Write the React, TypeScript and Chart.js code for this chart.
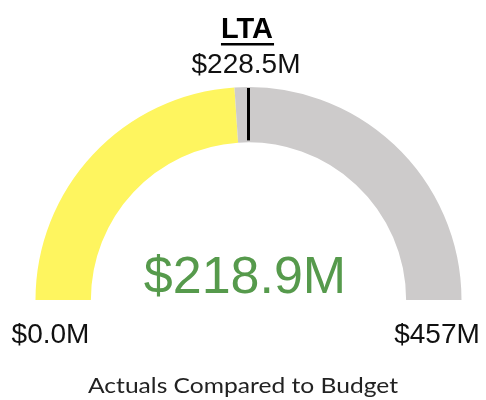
import React, { useEffect, useRef } from "react";
import { Chart, registerables } from "chart.js";

Chart.register(...registerables);

const TITLE = "LTA";
const BUDGET = 228.5;
const ACTUAL = 218.9;
const MAX_VALUE = 457;
const SEGMENT_LABELS = ["Actual", "Remaining"];
const SEGMENT_VALUES = [ACTUAL, MAX_VALUE - ACTUAL];
const MIN_LABEL = "$0.0M";
const MAX_LABEL = "$457M";
const BUDGET_LABEL = "$228.5M";
const ACTUAL_LABEL = "$218.9M";
const FOOTER = "Actuals Compared to Budget";

const YELLOW = "#FEF55F";
const GRAY = "#CDCBCB";
const GREEN = "#569A4C";

const gaugePlugin = {
  id: "gaugeText",
  afterDatasetsDraw(chart: any) {
    const ctx = chart.ctx as CanvasRenderingContext2D;
    const meta = chart.getDatasetMeta(0);
    const arc = meta.data[0] as any;
    if (!arc) return;
    const cx = arc.x;
    const cy = arc.y;
    const outer = arc.outerRadius;
    const inner = arc.innerRadius;
    const start = -Math.PI;
    const ang = start + (BUDGET / MAX_VALUE) * Math.PI;

    ctx.save();
    // budget marker
    ctx.strokeStyle = "#000000";
    ctx.lineWidth = 3;
    ctx.beginPath();
    ctx.moveTo(cx + Math.cos(ang) * (inner + 2), cy + Math.sin(ang) * (inner + 2));
    ctx.lineTo(cx + Math.cos(ang) * (outer - 1), cy + Math.sin(ang) * (outer - 1));
    ctx.stroke();

    const sans = "'Liberation Sans', Arial, sans-serif";
    ctx.textAlign = "center";
    ctx.textBaseline = "alphabetic";

    // Title
    ctx.fillStyle = "#000000";
    ctx.font = `bold 29px ${sans}`;
    ctx.fillText(TITLE, 247, 38);
    const tw = ctx.measureText(TITLE).width;
    ctx.fillRect(247 - tw / 2, 43, tw + 1, 2.5);

    // Budget label
    ctx.fillStyle = "#111111";
    ctx.font = `28px ${sans}`;
    ctx.fillText(BUDGET_LABEL, 246, 73);

    // Actual value
    ctx.fillStyle = GREEN;
    ctx.font = `52px ${sans}`;
    ctx.fillText(ACTUAL_LABEL, 245, 293);

    // Min / Max
    ctx.fillStyle = "#111111";
    ctx.font = `28px ${sans}`;
    ctx.fillText(MIN_LABEL, 50.5, 343);
    ctx.fillText(MAX_LABEL, 437, 343);

    // Footer (scaled to reference width)
    ctx.fillStyle = "#222222";
    ctx.font = `22px Lato, 'Open Sans', sans-serif`;
    const fw = ctx.measureText(FOOTER).width;
    const sx = 310 / fw;
    ctx.translate(243, 393);
    ctx.scale(sx, 1);
    ctx.fillText(FOOTER, 0, 0);
    ctx.restore();
  },
};

export default function App() {
  const ref = useRef<HTMLCanvasElement | null>(null);
  useEffect(() => {
    if (!ref.current) return;
    const chart = new Chart(ref.current, {
      type: "doughnut",
      data: {
        labels: SEGMENT_LABELS,
        datasets: [
          {
            data: SEGMENT_VALUES,
            backgroundColor: [YELLOW, GRAY],
            borderWidth: 0,
            hoverOffset: 0,
            offset: 0,
          },
        ],
      },
      options: {
        animation: false,
        responsive: false,
        maintainAspectRatio: false,
        rotation: -90,
        circumference: 180,
        cutout: "74%",
        layout: { padding: { left: 35.5, right: 24.5, top: 87, bottom: 100 } },
        plugins: {
          legend: { display: false },
          tooltip: { enabled: false },
          title: { display: false },
        },
      },
      plugins: [gaugePlugin],
    });
    return () => chart.destroy();
  }, []);
  return (
    <div style={{ position: "absolute", left: 0, top: 0, width: 486, height: 400, background: "#ffffff" }}>
      <canvas ref={ref} width={486} height={400} style={{ width: 486, height: 400, display: "block" }} />
    </div>
  );
}
